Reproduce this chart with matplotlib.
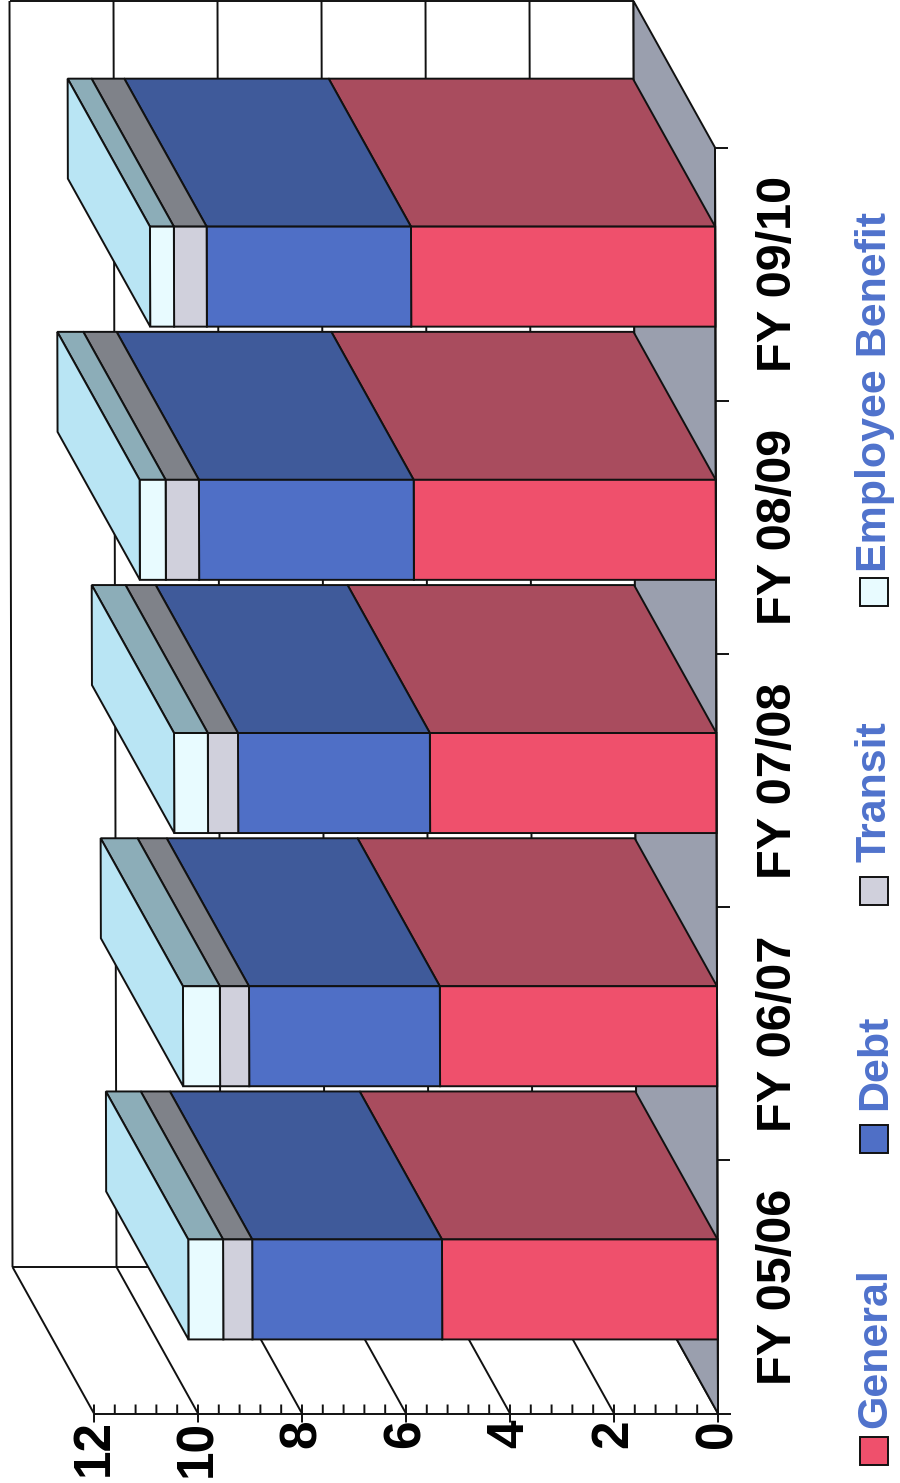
import matplotlib

matplotlib.use("Agg")
import matplotlib.pyplot as plt
from matplotlib.patches import Polygon, Rectangle
from matplotlib.transforms import Affine2D

plt.rcParams["font.family"] = ["Liberation Sans", "DejaVu Sans"]

categories = ["FY 05/06", "FY 06/07", "FY 07/08", "FY 08/09", "FY 09/10"]
general = [5.30, 5.33, 5.51, 5.81, 5.85]
debt = [3.65, 3.67, 3.69, 4.13, 3.93]
transit = [0.56, 0.56, 0.58, 0.64, 0.63]
employee_benefit = [0.67, 0.71, 0.65, 0.50, 0.46]

series_names = ["General", "Debt", "Transit", "Employee Benefit"]
series_values = [general, debt, transit, employee_benefit]
front_colors = ["#ef506c", "#4f6fc6", "#d0d0dc", "#e8fbff"]
side_colors = ["#a94c5e", "#3f5a9a", "#7f8289", "#8cadb8"]
end_color = "#b9e5f4"
floor_color = "#9a9fae"
legend_text_color = "#4f72cc"
line_color = "#111111"

value_ticks = [0, 2, 4, 6, 8, 10, 12]
minor_step = 0.4

W, H = 900, 1483
PX_PER_VALUE = 52.0
PX_PER_CAT = 253.2
ZERO_X, ZERO_Y = 718.0, 1413.5
DEPTH_VALUE = 81.5 / PX_PER_VALUE
DEPTH_CAT = 146.5 / PX_PER_CAT
SHEAR = 3.0 / PX_PER_VALUE / 5
BAR_WIDTH = 0.395
BAR_CENTER = 0.49
BAR_DEPTH = 1.01
LW = 1.4


def project(v, c, d=0.0):
    # oblique projection: depth runs towards higher values and categories
    return v + DEPTH_VALUE * d + SHEAR * c, c + DEPTH_CAT * d


def quad(ax, corners, color, z):
    pts = [project(*p) for p in corners]
    ax.add_patch(Polygon(pts, closed=True, facecolor=color, edgecolor=line_color,
                         linewidth=LW, joinstyle="miter", zorder=z))


def seg(ax, a, b, z=2, lw=LW):
    xa, ya = project(*a)
    xb, yb = project(*b)
    ax.plot([xa, xb], [ya, yb], color=line_color, linewidth=lw, zorder=z,
            solid_capstyle="butt")


fig = plt.figure(figsize=(W / 100, H / 100), dpi=100)
ax = fig.add_axes([0, 0, 1, 1])
# horizontal value axis runs right to left, categories run bottom to top
ax.set_xlim(ZERO_X / PX_PER_VALUE, (ZERO_X - W) / PX_PER_VALUE)
ax.set_ylim((ZERO_Y - H) / PX_PER_CAT, ZERO_Y / PX_PER_CAT)
ax.axis("off")

n = len(categories)
vmax = value_ticks[-1]

# back wall and side wall
for v in value_ticks:
    seg(ax, (v, 0, 1), (v, n, 1))
    seg(ax, (v, 0, 0), (v, 0, 1))
seg(ax, (0, 0, 1), (vmax, 0, 1))
seg(ax, (0, n, 1), (vmax, n, 1))

# floor
quad(ax, [(0, 0, 0), (0, n, 0), (0, n, 1), (0, 0, 1)], floor_color, 3)

# bars, furthest first so nearer ones overlap them
for i in reversed(range(n)):
    c0 = i + BAR_CENTER - BAR_WIDTH / 2
    c1 = i + BAR_CENTER + BAR_WIDTH / 2
    base = 0.0
    z = 4 + (n - i) * 0.1
    for values, front, side in zip(series_values, front_colors, side_colors):
        top = base + values[i]
        quad(ax, [(base, c1, 0), (top, c1, 0), (top, c1, BAR_DEPTH), (base, c1, BAR_DEPTH)],
             side, z)
        quad(ax, [(base, c0, 0), (top, c0, 0), (top, c1, 0), (base, c1, 0)], front, z)
        base = top
    quad(ax, [(base, c0, 0), (base, c1, 0), (base, c1, BAR_DEPTH), (base, c0, BAR_DEPTH)],
         end_color, z)

# value axis along the front edge
seg(ax, (-0.25, 0, 0), (vmax, 0, 0), z=6)
tick_len_cat = 9 / PX_PER_CAT
minor = 0.0
while minor < vmax - 1e-6:
    if round(minor / minor_step) % 5 != 0:
        seg(ax, (minor, 0, 0), (minor, tick_len_cat, 0), z=6)
    minor += minor_step
for v in value_ticks:
    seg(ax, (v, 0, 0), (v, -tick_len_cat, 0), z=6)
    seg(ax, (v, 0, 0), (v, tick_len_cat, 0), z=6)
    ax.text(v, -6 / PX_PER_CAT, str(v), rotation=90, ha="center", va="top",
            fontsize=37, fontweight="bold", color="black", zorder=7)

# category axis along the front edge
seg(ax, (0, 0, 0), (0, n, 0), z=6)
for i in range(1, n + 1):
    seg(ax, (0, i, 0), (-13 / PX_PER_VALUE, i, 0), z=6)
for i, name in enumerate(categories):
    ax.text(-60 / PX_PER_VALUE, i + 0.5, name, rotation=90, ha="center", va="center",
            fontsize=35, fontweight="bold", color="black", zorder=7)

# legend placed in pixel coordinates
px = Affine2D().scale(1 / W, -1 / H).translate(0, 1) + fig.transFigure
legend_box_bottoms = [1465, 1153, 905, 606]
legend_text_bottoms = [1428, 1110, 862, 572]
for name, color, y, ty in zip(series_names, front_colors, legend_box_bottoms,
                              legend_text_bottoms):
    fig.add_artist(Rectangle((860, y), 28, -28, transform=px, facecolor=color,
                             edgecolor=line_color, linewidth=LW))
    fig.text(875, ty, name, transform=px, rotation=90, ha="center", va="bottom",
             fontsize=31, fontweight="bold", color=legend_text_color)

fig.savefig("out.png", dpi=100, facecolor="white")
